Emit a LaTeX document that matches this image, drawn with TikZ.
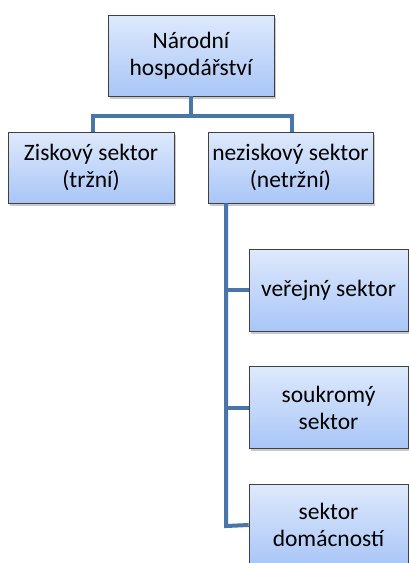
\documentclass[tikz,border=0pt]{standalone}
\usepackage{fontspec}
\setmainfont{Carlito}
\usetikzlibrary{shadows}
\definecolor{boxtop}{HTML}{DEE9FC}
\definecolor{boxbot}{HTML}{A9C6F7}
\definecolor{linec}{HTML}{4A75A8}
\definecolor{edgec}{HTML}{404040}
\begin{document}
\begin{tikzpicture}[x=1pt,y=-1pt,
  boxst/.style={draw=edgec, line width=0.6pt, top color=boxtop, bottom color=boxbot,
    align=center, inner sep=0pt, font=\fontsize{23.5}{27}\selectfont,
    drop shadow={shadow xshift=2pt,shadow yshift=-2.5pt,opacity=0.35,fill=black!60}},
  conn/.style={draw=linec, line width=4pt}]
\useasboundingbox (0,0) rectangle (409,563);
\node[boxst, minimum width=166pt, minimum height=81pt] (root) at (191,55.5) {Národní\\hospodářství};
\node[boxst, minimum width=166pt, minimum height=71pt] (zisk) at (91,167.5) {Ziskový sektor\\(tržní)};
\node[boxst, minimum width=165pt, minimum height=71pt] (nezisk) at (290.5,167.5) {neziskový sektor\\(netržní)};
\node[boxst, minimum width=159pt, minimum height=82pt] (ver) at (328.5,290) {veřejný sektor};
\node[boxst, minimum width=159pt, minimum height=82pt] (souk) at (328.5,407.5) {soukromý\\sektor};
\node[boxst, minimum width=159pt, minimum height=82pt] (dom) at (328.5,525) {sektor\\domácností};
\coordinate (bar) at (191,116);
\draw[conn] (root.south) -- (bar);
\draw[conn] (93,116) -- (292,116);
\draw[conn] (93,114) -- (zisk.north -| 93,0);
\draw[conn] (292,114) -- (nezisk.north -| 292,0);
\draw[conn] (nezisk.south -| 226,0) -- (226,526) -- (dom.west);
\draw[conn] (226,290) -- (ver.west);
\draw[conn] (226,407.5) -- (souk.west);
\end{tikzpicture}
\end{document}
